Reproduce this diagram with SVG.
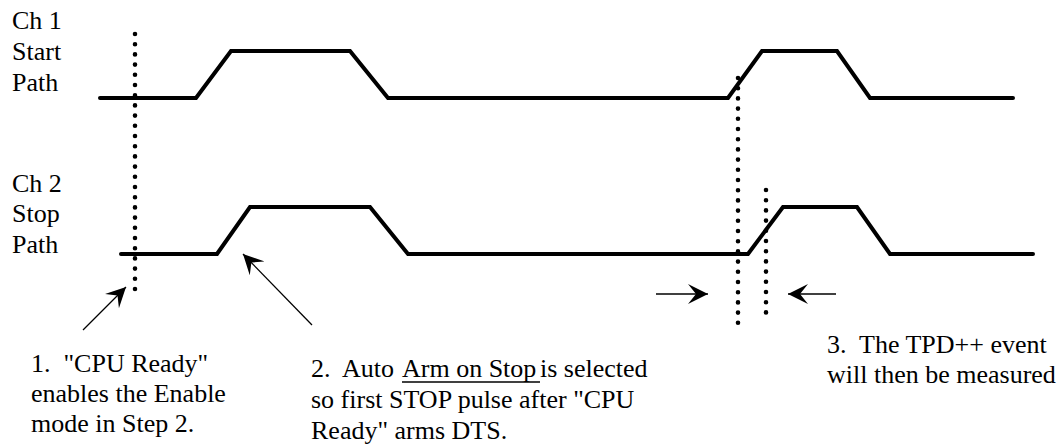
<svg xmlns="http://www.w3.org/2000/svg" width="1059" height="445" viewBox="0 0 1059 445">
<style>
text{font-family:"Liberation Serif","Times New Roman",serif;font-size:26px;fill:#000;white-space:pre}
.wave{fill:none;stroke:#000;stroke-width:4;stroke-linejoin:miter;stroke-linecap:round}
.dots{fill:none;stroke:#000;stroke-width:4.6;stroke-linecap:round;stroke-dasharray:0 10.2}
.arr{fill:none;stroke:#000;stroke-width:1.3}
.head{fill:#000;stroke:none}
</style>
<defs>
<marker id="ah" viewBox="0 0 20 20" refX="20" refY="10" markerWidth="20" markerHeight="20" markerUnits="userSpaceOnUse" orient="auto">
<path class="head" d="M0,0 L20,10 L0,20 L8,10 Z"/>
</marker>
</defs>
<rect width="1059" height="445" fill="#fff"/>
<g id="ch1-label">
<text x="12" y="29">Ch 1</text>
<text x="12" y="60">Start</text>
<text x="12" y="91">Path</text>
</g>
<g id="ch2-label">
<text x="12" y="192">Ch 2</text>
<text x="12" y="222">Stop</text>
<text x="12" y="253">Path</text>
</g>
<g id="ch1-wave">
<path class="wave" d="M100,98 L196,98 L231,51 L350,51 L388,98 L728,98 L762,51 L837,51 L870,98 L1013,98"/>
</g>
<g id="ch2-wave">
<path class="wave" d="M121,254 L217,254 L250,207 L370,207 L408,254 L748,254 L783,207 L857,207 L890,254 L1033,254"/>
</g>
<g id="markers">
<line class="dots" x1="135" y1="34" x2="135" y2="290"/>
<line class="dots" x1="738" y1="78" x2="738" y2="323"/>
<line class="dots" x1="766" y1="190" x2="766" y2="313"/>
</g>
<g id="connectors">
<line class="arr" x1="83" y1="330" x2="126" y2="287" marker-end="url(#ah)"/>
<line class="arr" x1="312" y1="325" x2="243" y2="254" marker-end="url(#ah)"/>
<line class="arr" x1="656" y1="294" x2="708" y2="294" marker-end="url(#ah)"/>
<line class="arr" x1="836" y1="294" x2="788" y2="294" marker-end="url(#ah)"/>
</g>
<g id="note1">
<text x="31" y="372">1.  "CPU Ready"</text>
<text x="31" y="402">enables the Enable</text>
<text x="31" y="432">mode in Step 2.</text>
</g>
<g id="note2">
<text x="311" y="377">2.  Auto</text>
<text x="402" y="377">Arm on Stop</text>
<line x1="402" y1="382" x2="540" y2="382" stroke="#000" stroke-width="1.5"/>
<text x="540" y="377">is selected</text>
<text x="311" y="408">so first STOP pulse after "CPU</text>
<text x="311" y="439">Ready" arms DTS.</text>
</g>
<g id="note3">
<text x="827" y="353">3.  The TPD++ event</text>
<text x="827" y="383">will then be measured</text>
</g>
</svg>
